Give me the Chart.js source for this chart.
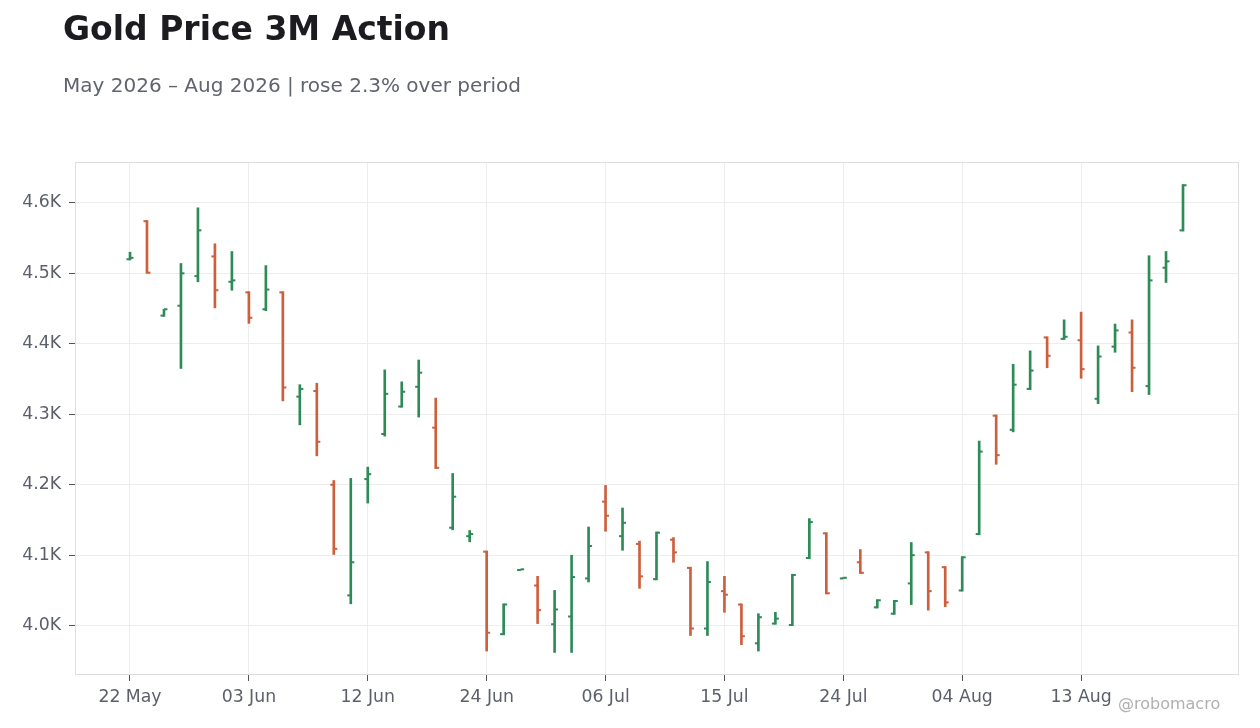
<!DOCTYPE html>
<html>
<head>
<meta charset="utf-8">
<script src="https://cdn.jsdelivr.net/npm/chart.js@4.4.1/dist/chart.umd.min.js"></script>
<style>
  body { margin: 0; background: #ffffff; font-family: "DejaVu Sans", sans-serif; }
  #wrap { position: relative; width: 1260px; height: 728px; overflow: hidden; }
  #myChart { position: absolute; left: 0; top: 0; }
  .txt { position: absolute; line-height: 1; white-space: nowrap; }
  #title { left: 63px; top: 12px; font-size: 33px; font-weight: bold; color: #1b1b20; }
  #subtitle { left: 63px; top: 75px; font-size: 20px; color: #60646e; }
  #mark { left: 1118px; top: 696px; font-size: 16px; color: #b0b0b0; }
</style>
</head>
<body>
<div id="wrap">
  <canvas id="myChart" width="1260" height="728"></canvas>
  <div id="title" class="txt">Gold Price 3M Action</div>
  <div id="subtitle" class="txt">May 2026 – Aug 2026 | rose 2.3% over period</div>
  <div id="mark" class="txt">@robomacro</div>
</div>
<script>
// trading days
const dates = [
  '2026-05-22','2026-05-26','2026-05-27','2026-05-28','2026-05-29',
  '2026-06-01','2026-06-02','2026-06-03','2026-06-04','2026-06-05','2026-06-08','2026-06-09','2026-06-10',
  '2026-06-11','2026-06-12','2026-06-15','2026-06-16','2026-06-17','2026-06-18','2026-06-22','2026-06-23',
  '2026-06-24','2026-06-25','2026-06-26','2026-06-29','2026-06-30',
  '2026-07-01','2026-07-02','2026-07-06','2026-07-07','2026-07-08','2026-07-09','2026-07-10','2026-07-13',
  '2026-07-14','2026-07-15','2026-07-16','2026-07-17','2026-07-20','2026-07-21','2026-07-22','2026-07-23',
  '2026-07-24','2026-07-27','2026-07-28','2026-07-29','2026-07-30','2026-07-31',
  '2026-08-03','2026-08-04','2026-08-05','2026-08-06','2026-08-07','2026-08-10','2026-08-11','2026-08-12',
  '2026-08-13','2026-08-14','2026-08-17','2026-08-18','2026-08-19','2026-08-20','2026-08-21'
]
const opens = [
  4520, 4574, 4440, 4454, 4496, 4524, 4488, 4473, 4449, 4473,
  4325, 4333, 4200, 4043, 4208, 4272, 4311, 4339, 4281, 4139,
  4127, 4105, 3988, 4079, 4057, 4002, 4013, 4067, 4176, 4127,
  4116, 4066, 4122, 4082, 3996, 4049, 4030, 3975, 4003, 4001,
  4096, 4131, 4067, 4090, 4026, 4017, 4060, 4104, 4083, 4050,
  4130, 4298, 4278, 4336, 4409, 4407, 4405, 4322, 4396, 4416,
  4340, 4508, 4561
]
const highs = [
  4530, 4575, 4449, 4514, 4593, 4542, 4531, 4474, 4511, 4474,
  4342, 4344, 4206, 4209, 4225, 4363, 4346, 4377, 4323, 4216,
  4135, 4106, 4031, 4080, 4070, 4050, 4100, 4140, 4199, 4167,
  4120, 4133, 4125, 4083, 4091, 4070, 4031, 4017, 4019, 4073,
  4152, 4132, 4068, 4108, 4037, 4036, 4118, 4105, 4084, 4098,
  4262, 4299, 4371, 4390, 4410, 4434, 4445, 4397, 4428, 4434,
  4525, 4531, 4626
]
const lows = [
  4519, 4500, 4439, 4365, 4488, 4451, 4476, 4429, 4447, 4319,
  4285, 4241, 4101, 4031, 4174, 4269, 4310, 4296, 4223, 4136,
  4119, 3964, 3987, 4079, 4003, 3962, 3962, 4062, 4134, 4107,
  4053, 4065, 4090, 3986, 3986, 4019, 3973, 3964, 4002, 4000,
  4095, 4045, 4067, 4074, 4025, 4016, 4030, 4022, 4027, 4049,
  4129, 4229, 4275, 4335, 4366, 4406, 4351, 4315, 4388, 4332,
  4328, 4487, 4560
]
const closes = [
  4522, 4501, 4449, 4500, 4561, 4476, 4490, 4437, 4477, 4338,
  4336, 4261, 4109, 4090, 4215, 4329, 4332, 4359, 4224, 4183,
  4130, 3990, 4030, 4080, 4022, 4023, 4069, 4113, 4156, 4146,
  4070, 4132, 4104, 3996, 4062, 4044, 3985, 4012, 4010, 4072,
  4147, 4046, 4068, 4075, 4036, 4035, 4100, 4049, 4033, 4097,
  4247, 4242, 4342, 4362, 4383, 4410, 4364, 4382, 4419, 4366,
  4490, 4517, 4625
]
const yTicks = [4000, 4100, 4200, 4300, 4400, 4500, 4600]

const UP = '#2e8b57'
const DOWN = '#cd5f3d'
const months = ['Jan','Feb','Mar','Apr','May','Jun','Jul','Aug','Sep','Oct','Nov','Dec']

const fmtDate = (s) => {
  const [y, m, d] = s.split('-')
  return d + ' ' + months[parseInt(m, 10) - 1]
}
const barColor = (i) => closes[i] >= opens[i] ? UP : DOWN

// open/close ticks + plot frame
const ohlcTicks = {
  id: 'ohlcTicks',
  beforeDatasetsDraw(chart) {
    const { ctx, chartArea } = chart
    ctx.save()
    ctx.strokeStyle = '#dedede'
    ctx.lineWidth = 1
    ctx.strokeRect(chartArea.left + 0.5, chartArea.top + 0.5, chartArea.width - 1, chartArea.height - 1)
    ctx.restore()
  },
  afterDatasetsDraw(chart) {
    const { ctx } = chart
    const xs = chart.scales.x
    const ys = chart.scales.y
    ctx.save()
    opens.forEach((o, i) => {
      const x = xs.getPixelForValue(i)
      ctx.fillStyle = barColor(i)
      ctx.fillRect(x - 3.5, ys.getPixelForValue(o) - 1, 3.5, 2)
      ctx.fillRect(x, ys.getPixelForValue(closes[i]) - 1, 3.5, 2)
    })
    ctx.restore()
  }
}

const ctx = document.getElementById('myChart').getContext('2d')
new Chart(ctx, {
  type: 'bar',
  data: {
    datasets: [{
      data: dates.map((d, i) => ({ x: i, y: [lows[i], highs[i]] })),
      backgroundColor: dates.map((d, i) => barColor(i)),
      borderWidth: 0,
      barThickness: 2
    }]
  },
  options: {
    responsive: false,
    animation: false,
    events: [],
    layout: { padding: { left: 0, top: 162, right: 21, bottom: 0 } },
    plugins: {
      legend: { display: false },
      tooltip: { enabled: false }
    },
    scales: {
      x: {
        type: 'linear',
        offset: false,
        min: -3.238,
        max: 65.297,
        afterFit: (scale) => { scale.height = 53 },
        afterBuildTicks: (scale) => {
          scale.ticks = dates.map((d, i) => i).filter(i => i % 7 === 0).map(v => ({ value: v }))
        },
        grid: { offset: false, color: '#ededed', tickColor: '#555', tickLength: 6 },
        border: { display: false },
        ticks: {
          autoSkip: false,
          maxRotation: 0,
          padding: 6,
          color: '#5c606b',
          font: { family: 'DejaVu Sans', size: 17.3 },
          callback: (v) => dates[v] ? fmtDate(dates[v]) : ''
        }
      },
      y: {
        min: 3930,
        max: 4658,
        afterFit: (scale) => { scale.width = 75 },
        afterBuildTicks: (scale) => {
          scale.ticks = yTicks.map(v => ({ value: v }))
        },
        grid: { color: '#ededed', tickColor: '#555', tickLength: 6 },
        border: { display: false },
        ticks: {
          padding: 8,
          color: '#5c606b',
          font: { family: 'DejaVu Sans', size: 17.3 },
          callback: (v) => (v / 1000).toFixed(1) + 'K'
        }
      }
    }
  },
  plugins: [ohlcTicks]
})
</script>
</body>
</html>
